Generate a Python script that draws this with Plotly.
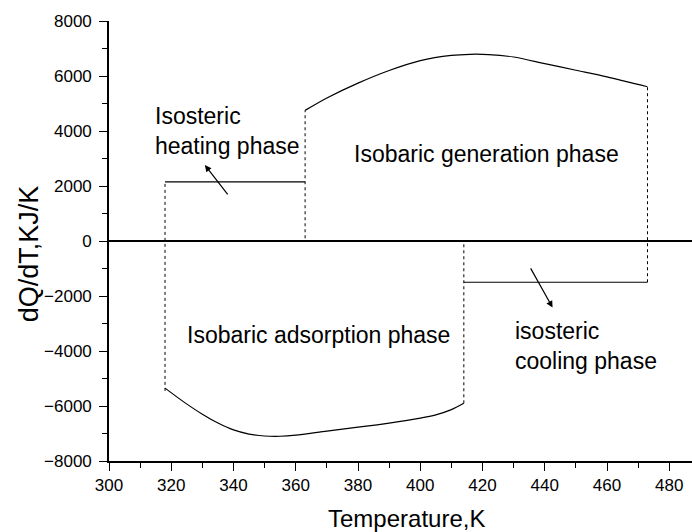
import plotly.graph_objects as go

# Isobaric generation phase (heat input), T in K, dQ/dT in KJ/K
gen_T = [363, 370, 380, 390, 400, 410, 416, 422, 430, 440, 450, 460, 473]
gen_Q = [4750, 5200, 5740, 6200, 6560, 6750, 6790, 6780, 6690, 6450, 6210, 5970, 5610]

# Isobaric adsorption phase (heat rejected)
ads_T = [318, 324, 330, 335, 340, 345, 350, 355, 360, 370, 380, 390, 400, 405, 410, 414]
ads_Q = [-5350, -5850, -6300, -6620, -6870, -7020, -7090, -7100, -7060, -6910, -6770, -6620, -6440, -6320, -6130, -5900]

# Isosteric phases (constant dQ/dT)
heat_T = [318, 363]
heat_Q = [2150, 2150]
cool_T = [414, 473]
cool_Q = [-1500, -1500]

# Phase boundaries (dotted verticals): temperature, lower, upper
bounds = [
    (318, -5450, 2150),
    (363, 100, 4750),
    (414, -5900, 0),
    (473, -1500, 5610),
]

# Phase labels: text, T, dQ/dT
labels = [
    ("Isosteric<br>heating phase", 314, 4000),
    ("Isobaric generation phase", 378, 3150),
    ("Isobaric adsorption phase", 324.5, -3400),
    ("isosteric<br>cooling phase", 429.8, -3800),
]

# Pointer arrows: (tail T, tail Q, head T, head Q)
pointers = [
    (338.5, 1640, 330.8, 2760),
    (435.2, -940, 442.5, -2420),
]

FONT = "Liberation Sans, Arial, sans-serif"

fig = go.Figure()

for T, lo, hi in bounds:
    fig.add_trace(go.Scatter(x=[T, T], y=[lo, hi], mode="lines",
                             line=dict(color="black", width=1, dash="dot"),
                             hoverinfo="skip"))

fig.add_trace(go.Scatter(x=heat_T, y=heat_Q, mode="lines",
                         line=dict(color="black", width=1.2)))
fig.add_trace(go.Scatter(x=cool_T, y=cool_Q, mode="lines",
                         line=dict(color="black", width=1.2)))
fig.add_trace(go.Scatter(x=gen_T, y=gen_Q, mode="lines",
                         line=dict(color="black", width=1.2, shape="spline", smoothing=0.8)))
fig.add_trace(go.Scatter(x=ads_T, y=ads_Q, mode="lines",
                         line=dict(color="black", width=1.2, shape="spline", smoothing=0.8)))

annotations = []
for text, T, Q in labels:
    annotations.append(dict(x=T, y=Q, xref="x", yref="y", text=text, showarrow=False,
                            xanchor="left", yanchor="middle", align="left",
                            font=dict(family=FONT, size=23, color="black")))
for t0, q0, t1, q1 in pointers:
    annotations.append(dict(x=t1, y=q1, ax=t0, ay=q0, xref="x", yref="y",
                            axref="x", ayref="y", text="", showarrow=True,
                            arrowhead=2, arrowsize=1.1, arrowwidth=1.2,
                            arrowcolor="black"))

# axis titles
annotations.append(dict(x=0.51, y=-0.13, xref="paper", yref="paper",
                        text="Temperature,K", showarrow=False,
                        xanchor="center", yanchor="middle",
                        font=dict(family=FONT, size=24, color="black")))
annotations.append(dict(x=-0.137, y=0.47, xref="paper", yref="paper",
                        text="dQ/dT,KJ/K", showarrow=False, textangle=-90,
                        xanchor="center", yanchor="middle",
                        font=dict(family=FONT, size=27, color="black")))

fig.update_layout(
    width=692, height=532,
    margin=dict(l=109, r=0, t=21, b=71),
    paper_bgcolor="white", plot_bgcolor="white",
    showlegend=False,
    font=dict(family=FONT, size=17, color="black"),
    annotations=annotations,
)

fig.update_xaxes(
    range=[300, 487.3], tickmode="linear", tick0=300, dtick=20,
    showgrid=False, zeroline=False,
    showline=True, linecolor="black", linewidth=1.6,
    ticks="outside", ticklen=8, tickwidth=1.4, tickcolor="black",
    ticklabelstandoff=0,
    minor=dict(dtick=10, ticks="outside", ticklen=5, tickwidth=1.2, tickcolor="black", showgrid=False),
)
fig.update_yaxes(
    range=[-8000, 8000], tickmode="linear", tick0=-8000, dtick=2000,
    showgrid=False, zeroline=True, zerolinecolor="black", zerolinewidth=2,
    showline=True, linecolor="black", linewidth=1.6,
    ticks="outside", ticklen=8, tickwidth=1.4, tickcolor="black",
    ticklabelstandoff=4,
    minor=dict(dtick=1000, ticks="outside", ticklen=5, tickwidth=1.2, tickcolor="black", showgrid=False),
)

fig.write_html("out.html")
